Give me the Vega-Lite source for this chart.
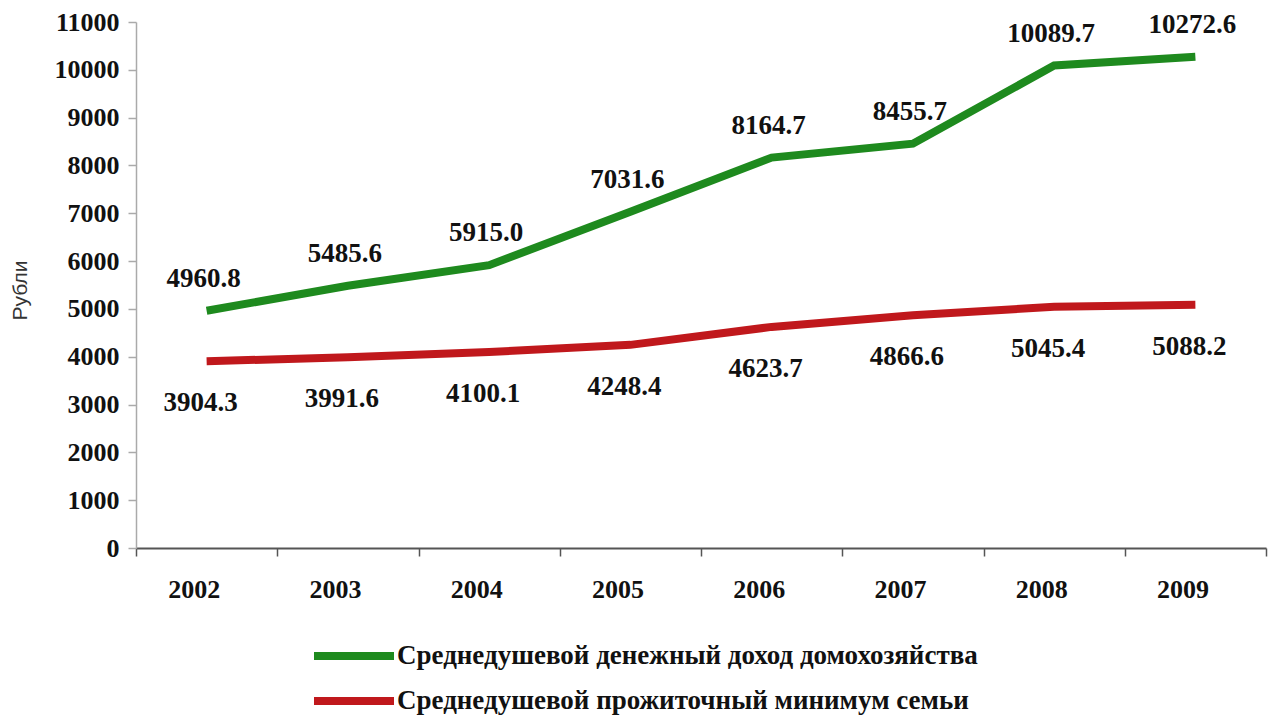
{
  "$schema": "https://vega.github.io/schema/vega-lite/v6.json",
  "width": 1130,
  "height": 526,
  "autosize": "none",
  "padding": {"left": 136, "top": 22, "right": 4, "bottom": 168},
  "background": "white",
  "config": {"view": {"stroke": null}, "font": "Liberation Serif"},
  "data": {"values": [
    {"year": "2002", "value": 4960.8, "series": "Среднедушевой денежный доход домохозяйства"},
    {"year": "2003", "value": 5485.6, "series": "Среднедушевой денежный доход домохозяйства"},
    {"year": "2004", "value": 5915.0, "series": "Среднедушевой денежный доход домохозяйства"},
    {"year": "2005", "value": 7031.6, "series": "Среднедушевой денежный доход домохозяйства"},
    {"year": "2006", "value": 8164.7, "series": "Среднедушевой денежный доход домохозяйства"},
    {"year": "2007", "value": 8455.7, "series": "Среднедушевой денежный доход домохозяйства"},
    {"year": "2008", "value": 10089.7, "series": "Среднедушевой денежный доход домохозяйства"},
    {"year": "2009", "value": 10272.6, "series": "Среднедушевой денежный доход домохозяйства"},
    {"year": "2002", "value": 3904.3, "series": "Среднедушевой прожиточный минимум семьи"},
    {"year": "2003", "value": 3991.6, "series": "Среднедушевой прожиточный минимум семьи"},
    {"year": "2004", "value": 4100.1, "series": "Среднедушевой прожиточный минимум семьи"},
    {"year": "2005", "value": 4248.4, "series": "Среднедушевой прожиточный минимум семьи"},
    {"year": "2006", "value": 4623.7, "series": "Среднедушевой прожиточный минимум семьи"},
    {"year": "2007", "value": 4866.6, "series": "Среднедушевой прожиточный минимум семьи"},
    {"year": "2008", "value": 5045.4, "series": "Среднедушевой прожиточный минимум семьи"},
    {"year": "2009", "value": 5088.2, "series": "Среднедушевой прожиточный минимум семьи"}
  ]},
  "encoding": {
    "x": {
      "field": "year", "type": "ordinal", "bandPosition": 0.5,
      "scale": {"type": "band", "paddingInner": 0, "paddingOuter": 0},
      "axis": {
        "title": null, "labelAngle": 0, "labelFont": "Liberation Serif", "labelFontWeight": "bold",
        "labelFontSize": 26, "labelColor": "#111", "labelPadding": 20, "labelOffset": -13,
        "domainColor": "#555", "domainWidth": 2, "tickColor": "#555", "tickWidth": 1.5,
        "tickSize": 8, "tickBand": "extent", "grid": false
      }
    },
    "y": {
      "field": "value", "type": "quantitative",
      "scale": {"domain": [0, 11000], "nice": false},
      "axis": {
        "title": "Рубли", "titleFont": "Liberation Sans", "titleFontWeight": "normal", "titleFontSize": 21,
        "titleColor": "#333", "titleX": -106, "titleY": 268, "titleAngle": -90,
        "values": [0, 1000, 2000, 3000, 4000, 5000, 6000, 7000, 8000, 9000, 10000, 11000],
        "format": "d",
        "labelFont": "Liberation Serif", "labelFontWeight": "bold", "labelFontSize": 26,
        "labelColor": "#111", "labelPadding": 9, "domainColor": "#aaa", "domainWidth": 1.5,
        "tickColor": "#aaa", "tickWidth": 1.5, "tickSize": 8, "grid": false
      }
    }
  },
  "layer": [
    {
      "mark": {"type": "line", "strokeWidth": 8, "strokeCap": "butt"},
      "encoding": {
        "color": {
          "field": "series", "type": "nominal",
          "scale": {
            "domain": ["Среднедушевой денежный доход домохозяйства", "Среднедушевой прожиточный минимум семьи"],
            "range": ["#1e8a1e", "#c0181c"]
          },
          "legend": {
            "title": null, "orient": "none", "legendX": 194, "legendY": 610,
            "symbolType": "M-2,0H2", "symbolSize": 1600, "symbolStrokeWidth": 8,
            "labelFont": "Liberation Serif", "labelFontWeight": "bold", "labelFontSize": 27,
            "labelColor": "#111", "labelLimit": 0, "labelOffset": 19, "rowPadding": 5
          }
        }
      }
    },
    {
      "transform": [{"filter": "datum.series == 'Среднедушевой денежный доход домохозяйства'"}],
      "mark": {"type": "text", "fontWeight": "bold", "fontSize": 27, "font": "Liberation Serif", "color": "#111", "dy": -32, "dx": -3},
      "encoding": {"text": {"field": "value", "type": "quantitative", "format": ".1f"}}
    },
    {
      "transform": [{"filter": "datum.series == 'Среднедушевой прожиточный минимум семьи'"}],
      "mark": {"type": "text", "fontWeight": "bold", "fontSize": 27, "font": "Liberation Serif", "color": "#111", "dy": 42, "dx": -6},
      "encoding": {"text": {"field": "value", "type": "quantitative", "format": ".1f"}}
    }
  ]
}
